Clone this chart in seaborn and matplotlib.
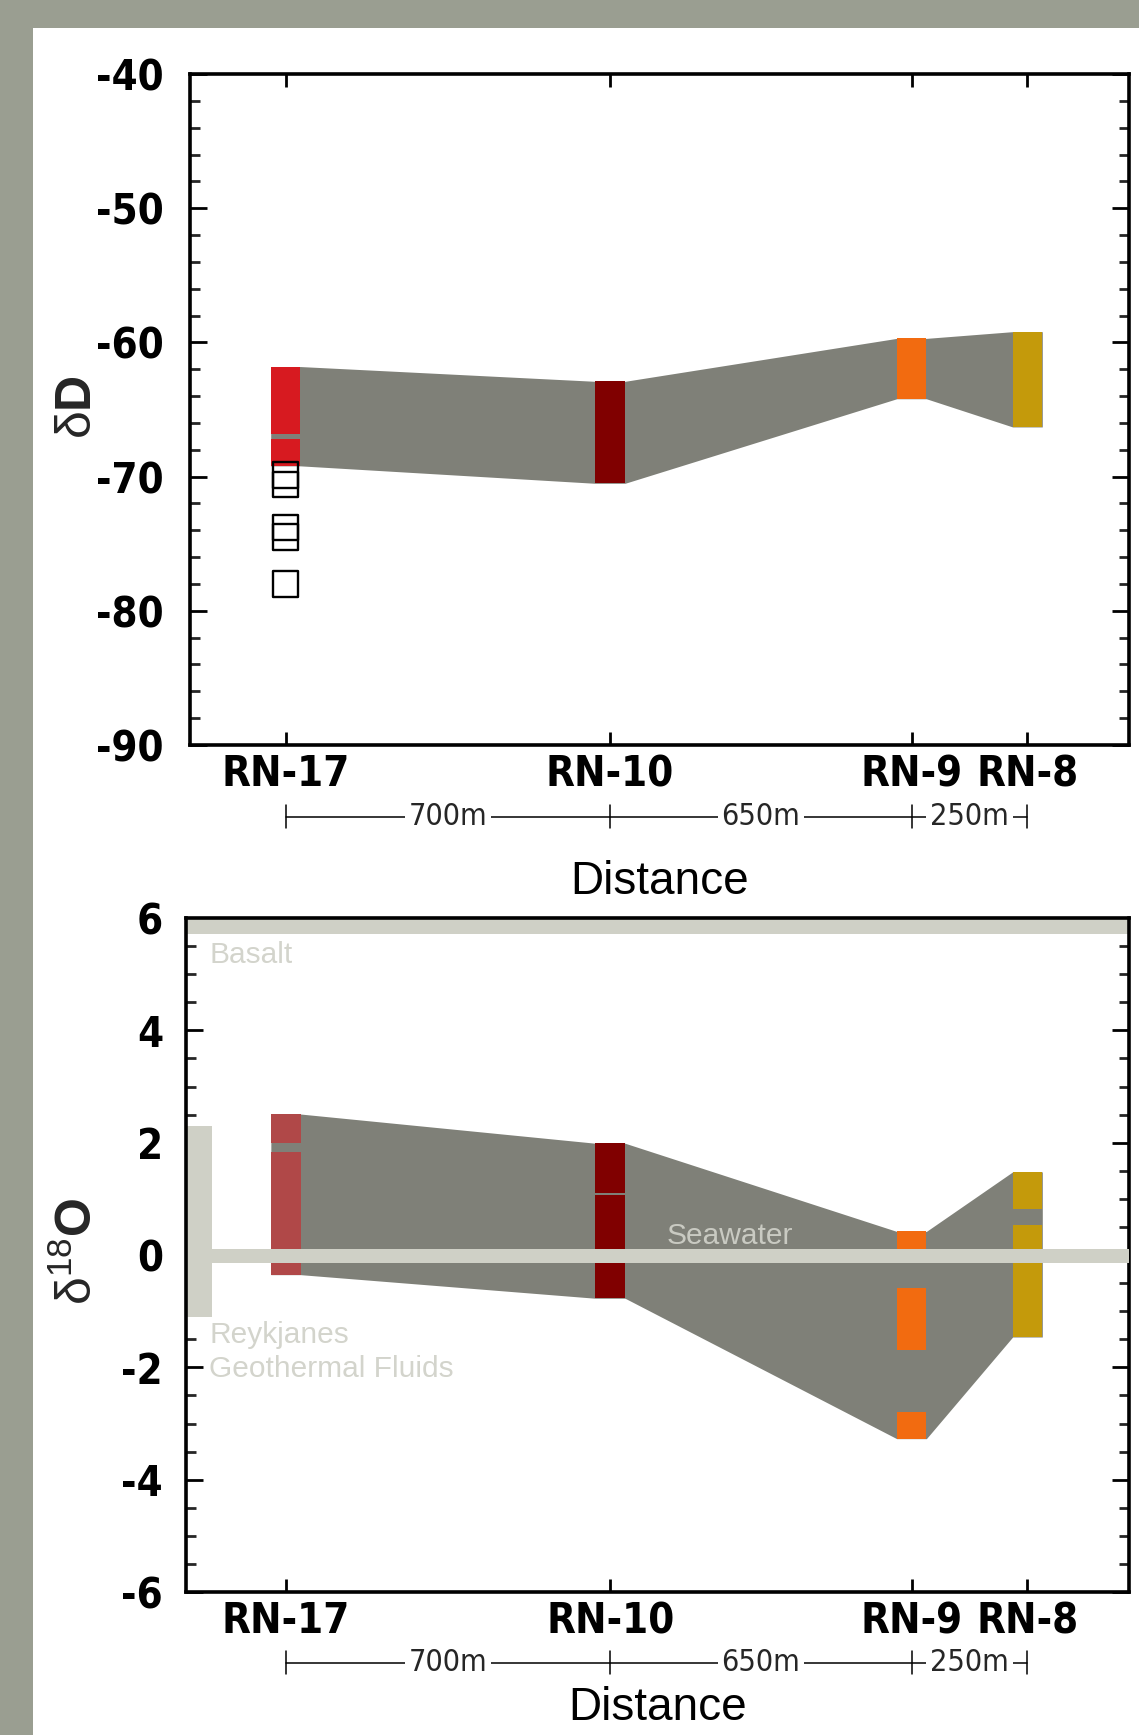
import numpy as np
import pandas as pd
import matplotlib
matplotlib.use('Agg')
import matplotlib.pyplot as plt
import matplotlib.transforms as mtransforms
from matplotlib.patches import Rectangle
from matplotlib.ticker import MultipleLocator
from matplotlib import font_manager as fm
import seaborn as sns

# ---------------- data ----------------
wells = ['RN-17', 'RN-10', 'RN-9', 'RN-8']
well_dist = [0, 700, 1350, 1600]          # metres along profile
span_labels = ['700m', '650m', '250m']

colors_dD = ['#d71a20', '#800000', '#f26b10', '#c49a0b']
colors_d18O = ['#b04848', '#800000', '#f26b10', '#c49a0b']

# delta D envelope (max / min per well)
dD_high = [-61.8, -62.9, -59.7, -59.2]
dD_low = [-69.2, -70.5, -64.2, -66.3]
# delta D coloured bar segments
dD_seg_well = [0, 0, 1, 2, 3]
dD_seg_low = [-66.85, -69.2, -70.5, -64.2, -66.3]
dD_seg_high = [-61.8, -67.2, -62.9, -59.7, -59.2]
# open squares at RN-17
dD_sq_well = [0, 0, 0, 0, 0]
dD_sq_val = [-69.9, -70.6, -73.8, -74.5, -78.0]

# delta 18O envelope
d18O_high = [2.51, 1.99, 0.42, 1.48]
d18O_low = [-0.35, -0.77, -3.27, -1.46]
# delta 18O coloured bar segments
d18O_seg_well = [0, 0, 1, 1, 2, 2, 2, 3, 3]
d18O_seg_low = [2.00, -0.35, 1.11, -0.77, -0.05, -1.70, -3.27, 0.82, -1.46]
d18O_seg_high = [2.51, 1.83, 1.99, 1.06, 0.42, -0.59, -2.79, 1.48, 0.54]

# reference ranges
basalt = (5.72, 6.0)
seawater = (-0.14, 0.10)
reykjanes = (-1.10, 2.30)
reykjanes_x = -186

# ---------------- style ----------------
sns.set_style('white')
plt.rcParams['font.family'] = ['Liberation Sans', 'DejaVu Sans']
plt.rcParams['axes.unicode_minus'] = False
plt.rcParams['mathtext.fontset'] = 'custom'
plt.rcParams['mathtext.rm'] = 'Liberation Sans'
plt.rcParams['mathtext.bf'] = 'Liberation Sans:bold'
plt.rcParams['mathtext.it'] = 'Liberation Sans:italic'


def find_narrow():
    """Return (family, stretch, scale) for a narrow/condensed face if present."""
    cands = [('Liberation Sans Narrow', 'normal', 1.0), ('DejaVu Sans', 'condensed', 0.91),
             ('Noto Sans', 'condensed', 0.91), ('Roboto Condensed', 'normal', 0.95),
             ('Open Sans', 'condensed', 0.91)]
    for fam, st, sc in cands:
        try:
            p = fm.findfont(fm.FontProperties(family=fam, stretch=st, weight='bold'),
                            fallback_to_default=False)
        except Exception:
            continue
        name = p.lower()
        if 'narrow' in name or 'condensed' in name:
            return fam, st, sc
    return 'Liberation Sans', 'normal', 0.85


N_FAM, N_STRETCH, N_SCALE = find_narrow()

ENV = '#7f8078'
LIGHT = '#cfd0c6'
LIGHT_TXT = '#d3d4cc'
BW = 64

W, H = 1139, 1735
fig = plt.figure(figsize=(W / 100, H / 100), dpi=100)
fig.patch.set_facecolor('#9a9e91')
fig.add_artist(Rectangle((33 / W, 0), 1 - 33 / W, (H - 28) / H,
                         transform=fig.transFigure, facecolor='white',
                         edgecolor='none', zorder=-5))

ax1 = fig.add_axes([190 / W, 1 - 745 / H, (1129 - 190) / W, (745 - 74) / H])
ax2 = fig.add_axes([186 / W, 1 - 1592 / H, (1129 - 186) / W, (1592 - 918) / H])
for ax in (ax1, ax2):
    ax.set_facecolor('none')

ax1.set_xlim(-206, 1819)
ax2.set_xlim(-215, 1819)
ax1.set_ylim(-90, -40)
ax2.set_ylim(-6, 6)


def envelope(ax, high, low):
    xs, lo, hi = [], [], []
    for d, h, l in zip(well_dist, high, low):
        xs += [d - BW / 2, d + BW / 2]
        hi += [h, h]
        lo += [l, l]
    ax.fill_between(xs, lo, hi, color=ENV, lw=0, zorder=1)


def bars(ax, seg_well, seg_low, seg_high, colors):
    df = pd.DataFrame({'well': seg_well, 'low': seg_low, 'high': seg_high})
    df['x'] = [well_dist[w] for w in df['well']]
    df['c'] = [colors[w] for w in df['well']]
    ax.bar(df['x'], df['high'] - df['low'], bottom=df['low'], width=BW,
           color=df['c'], lw=0, zorder=2)


envelope(ax1, dD_high, dD_low)
bars(ax1, dD_seg_well, dD_seg_low, dD_seg_high, colors_dD)
sq = pd.DataFrame({'x': [well_dist[w] for w in dD_sq_well], 'y': dD_sq_val})
sns.scatterplot(data=sq, x='x', y='y', ax=ax1, marker='s', s=340,
                facecolor='none', edgecolor='black', linewidth=1.7, zorder=4)

# delta 18O panel
ax2.axhspan(basalt[0], basalt[1], color=LIGHT, lw=0, zorder=1)
ax2.bar([reykjanes_x], [reykjanes[1] - reykjanes[0]], bottom=reykjanes[0],
        width=54, color=LIGHT, lw=0, zorder=1)
envelope(ax2, d18O_high, d18O_low)
bars(ax2, d18O_seg_well, d18O_seg_low, d18O_seg_high, colors_d18O)
ax2.fill_between([reykjanes_x + 27, ax2.get_xlim()[1]], seawater[0], seawater[1],
                 color=LIGHT, lw=0, zorder=3)

txt_kw = dict(color=LIGHT_TXT, fontsize=21.5, ha='left', va='baseline', zorder=5)
ax2.text(-165, 5.20, 'Basalt', **txt_kw)
ax2.text(-165, -1.57, 'Reykjanes', **txt_kw)
ax2.text(-165, -2.18, 'Geothermal Fluids', **txt_kw)
ax2.text(822, 0.20, 'Seawater', color='#c9cac2', fontsize=21.5, ha='left',
         va='baseline', zorder=5)

ax1.yaxis.set_major_locator(MultipleLocator(10))
ax1.yaxis.set_minor_locator(MultipleLocator(2))
ax2.yaxis.set_major_locator(MultipleLocator(2))
ax2.yaxis.set_minor_locator(MultipleLocator(0.5))

for ax, ypad, yline, xlab_y in ((ax1, 19, -0.107, -0.222), (ax2, 16.5, -0.105, -0.19)):
    ax.set_xticks(well_dist)
    ax.set_xticklabels(wells)
    ax.set_xlabel('')
    ax.set_ylabel('')
    for s in ax.spines.values():
        s.set_linewidth(2.6)
        s.set_color('black')
        s.set_visible(True)
    ax.tick_params(axis='x', which='major', direction='in', top=True, bottom=True,
                   length=9.5, width=2, pad=6, colors='black')
    ax.tick_params(axis='y', which='major', direction='in', left=True, right=True,
                   length=12, width=2, pad=ypad, colors='black')
    ax.tick_params(axis='y', which='minor', direction='in', left=True, right=True,
                   length=7, width=2)
    for lbl in ax.get_xticklabels() + ax.get_yticklabels():
        lbl.set_family([N_FAM, 'DejaVu Sans'])
        lbl.set_stretch(N_STRETCH)
        lbl.set_weight('bold')
        lbl.set_fontsize(33 * N_SCALE)

    trans = mtransforms.blended_transform_factory(ax.transData, ax.transAxes)
    ax.plot([well_dist[0], well_dist[-1]], [yline, yline], color='black', lw=1.1,
            transform=trans, clip_on=False)
    for d in well_dist:
        ax.plot([d, d], [yline - 0.017, yline + 0.017], color='black', lw=1.1,
                transform=trans, clip_on=False)
    for i, lab in enumerate(span_labels):
        mid = (well_dist[i] + well_dist[i + 1]) / 2
        ax.text(mid, yline, lab, transform=trans, ha='center', va='center',
                fontsize=24 * N_SCALE, family=[N_FAM, 'DejaVu Sans'], stretch=N_STRETCH,
                bbox=dict(boxstyle='square,pad=0.12', fc='white', ec='none'))
    ax.text(0.5, xlab_y, 'Distance', transform=ax.transAxes, ha='center',
            va='baseline', fontsize=33, color='black')

fig.text(78 / W, 1 - 407 / H, r'$\mathrm{\delta}\mathbf{D}$', rotation=90,
         ha='center', va='center', fontsize=36)
fig.text(78 / W, 1 - 1251 / H, r'$\mathrm{\delta}^{\mathrm{18}}\mathbf{O}$', rotation=90,
         ha='center', va='center', fontsize=36)

fig.savefig('out.png', dpi=100, facecolor=fig.get_facecolor())
